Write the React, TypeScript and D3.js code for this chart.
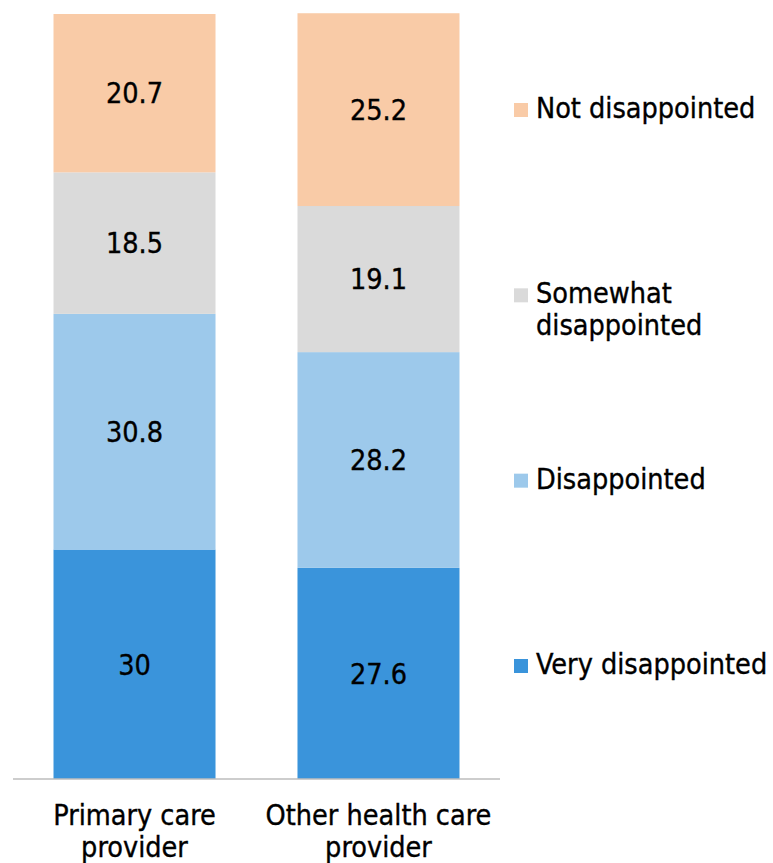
import React, { useEffect } from "react";
import * as d3 from "d3";

// Survey responses (%) by provider type, stacked bottom to top
const categories = ["Primary care provider", "Other health care provider"];
const categoryLines = [["Primary care", "provider"], ["Other health care", "provider"]];
const seriesNames = ["Very disappointed", "Disappointed", "Somewhat disappointed", "Not disappointed"];
const veryDisappointed = [30, 27.6];
const disappointed = [30.8, 28.2];
const somewhatDisappointed = [18.5, 19.1];
const notDisappointed = [20.7, 25.2];
const legendLines = [["Not disappointed"], ["Somewhat", "disappointed"], ["Disappointed"], ["Very disappointed"]];
const legendKeys = ["Not disappointed", "Somewhat disappointed", "Disappointed", "Very disappointed"];

const colors: Record<string, string> = {
  "Very disappointed": "#3A94DB",
  "Disappointed": "#9DC9EB",
  "Somewhat disappointed": "#DADADA",
  "Not disappointed": "#F9CBA7",
};

const W = 773;
const H = 863;
const FONT = "'DejaVu Sans Condensed', 'DejaVu Sans', Verdana, sans-serif";
const FS = 28.5;
const LINE = 32;

export default function App() {
  useEffect(() => {
    document.body.style.margin = "0";
    document.documentElement.style.overflow = "hidden";
  }, []);

  const rows = categories.map((c, i) => ({
    category: c,
    "Very disappointed": veryDisappointed[i],
    "Disappointed": disappointed[i],
    "Somewhat disappointed": somewhatDisappointed[i],
    "Not disappointed": notDisappointed[i],
  }));
  const stack = d3.stack<any>().keys(seriesNames);
  const layers = stack(rows);

  const x = d3.scaleBand<string>().domain(categories).range([13, 500]).paddingInner(0.336).paddingOuter(0.166);
  const y = d3.scaleLinear().domain([0, 100]).range([779, 14]);

  const legendY = d3.scalePoint<string>().domain(legendKeys).range([110, 666]);

  const textProps = { fill: "#000", stroke: "#000", strokeWidth: 0.35, fontSize: FS };

  return (
    <div>
      <svg width={W} height={H} style={{ display: "block" }} fontFamily={FONT} fontStretch="condensed">
        {layers.map((layer) => (
          <g key={layer.key} fill={colors[layer.key]}>
            {layer.map((d, i) => (
              <rect
                key={i}
                x={x(categories[i])}
                width={x.bandwidth()}
                y={y(d[1])}
                height={y(d[0]) - y(d[1])}
              />
            ))}
          </g>
        ))}
        {layers.map((layer) => (
          <g key={layer.key + "-lbl"}>
            {layer.map((d, i) => (
              <text
                key={i}
                x={(x(categories[i]) as number) + x.bandwidth() / 2}
                y={(y(d[0]) + y(d[1])) / 2}
                dy="0.36em"
                textAnchor="middle"
                {...textProps}
              >
                {String((d.data as any)[layer.key])}
              </text>
            ))}
          </g>
        ))}
        <line x1={13} x2={500} y1={779} y2={779} stroke="#BDBDBD" strokeWidth={1.6} />
        {categories.map((c, i) => (
          <text
            key={c}
            x={(x(c) as number) + x.bandwidth() / 2}
            y={825}
            textAnchor="middle"
            {...textProps}
          >
            {categoryLines[i].map((l, j) => (
              <tspan key={j} x={(x(c) as number) + x.bandwidth() / 2} dy={j === 0 ? 0 : LINE}>
                {l}
              </tspan>
            ))}
          </text>
        ))}
        {legendKeys.map((k, i) => {
          const cy = legendY(k) as number;
          return (
            <g key={k}>
              <rect x={514} y={cy - 7} width={14} height={14} fill={colors[k]} />
              <text x={536} y={cy + 8} {...textProps}>
                {legendLines[i].map((l, j) => (
                  <tspan key={j} x={536} dy={j === 0 ? 0 : LINE}>
                    {l}
                  </tspan>
                ))}
              </text>
            </g>
          );
        })}
      </svg>
    </div>
  );
}
